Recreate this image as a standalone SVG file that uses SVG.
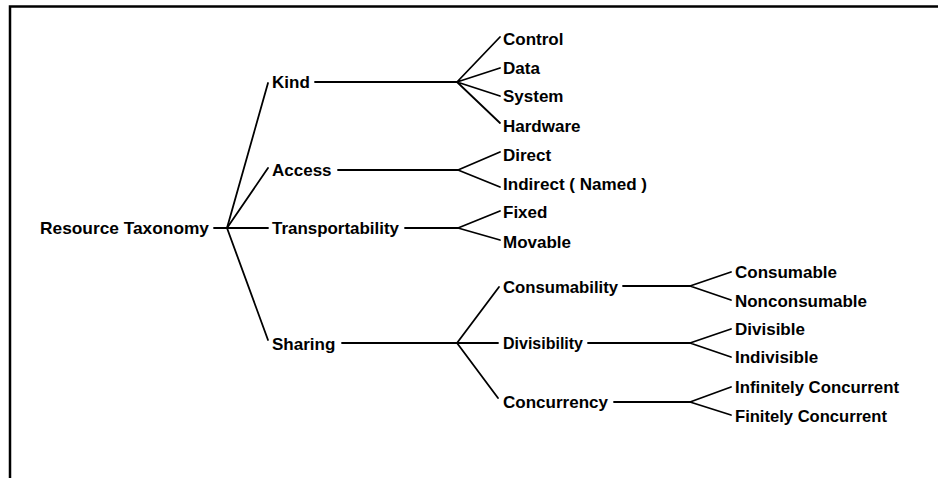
<svg xmlns="http://www.w3.org/2000/svg" width="938" height="478" viewBox="0 0 938 478">
  <style>
    .lbl { font-family: "Liberation Sans", Arial, sans-serif; font-weight: bold; font-size: 17px; fill: #000; }
    .edge { stroke: #000; stroke-width: 1.8; fill: none; stroke-linecap: round; }
    .frame { stroke: #000; stroke-width: 2.5; fill: none; }
  </style>
  <rect width="938" height="478" fill="#fff"/>
  <!-- open frame: top and left edges only -->
  <path class="frame" d="M10,478 L10,6.5 L938,6.5"/>

  <g id="connectors">
    <!-- root fan-out -->
    <path class="edge" d="M214,228 L268,228"/>
    <path class="edge" d="M227,228 L268,83"/>
    <path class="edge" d="M227,228 L268,168"/>
    <path class="edge" d="M227,228 L268,340"/>
    <!-- Kind -->
    <path class="edge" d="M315,82 L457,82"/>
    <path class="edge" d="M457,82 L500,37 M457,82 L500,68 M457,82 L500,96 M457,82 L500,123"/>
    <!-- Access -->
    <path class="edge" d="M338,170 L458,170"/>
    <path class="edge" d="M458,170 L500,152 M458,170 L500,187"/>
    <!-- Transportability -->
    <path class="edge" d="M405,228 L458,228"/>
    <path class="edge" d="M458,228 L500,211 M458,228 L500,240"/>
    <!-- Sharing -->
    <path class="edge" d="M342,343 L498,343"/>
    <path class="edge" d="M457,343 L499,287 M457,343 L498,398"/>
    <!-- Consumability -->
    <path class="edge" d="M623,286 L690,286"/>
    <path class="edge" d="M690,286 L731,272 M690,286 L731,300"/>
    <!-- Divisibility -->
    <path class="edge" d="M588,343 L690,343"/>
    <path class="edge" d="M690,343 L731,329 M690,343 L731,357"/>
    <!-- Concurrency -->
    <path class="edge" d="M614,402 L690,402"/>
    <path class="edge" d="M690,402 L731,387 M690,402 L731,415"/>
  </g>

  <g id="node-root"><text class="lbl" x="40" y="234" textLength="169" lengthAdjust="spacingAndGlyphs">Resource Taxonomy</text></g>

  <g id="node-kind"><text class="lbl" x="272" y="88">Kind</text></g>
  <g id="node-access"><text class="lbl" x="272" y="176">Access</text></g>
  <g id="node-transportability"><text class="lbl" x="272" y="234" textLength="127" lengthAdjust="spacingAndGlyphs">Transportability</text></g>
  <g id="node-sharing"><text class="lbl" x="272" y="350">Sharing</text></g>

  <g id="node-control"><text class="lbl" x="503" y="45">Control</text></g>
  <g id="node-data"><text class="lbl" x="503" y="74">Data</text></g>
  <g id="node-system"><text class="lbl" x="503" y="102">System</text></g>
  <g id="node-hardware"><text class="lbl" x="503" y="132">Hardware</text></g>
  <g id="node-direct"><text class="lbl" x="503" y="161">Direct</text></g>
  <g id="node-indirect"><text class="lbl" x="503" y="190" textLength="144" lengthAdjust="spacingAndGlyphs">Indirect ( Named )</text></g>
  <g id="node-fixed"><text class="lbl" x="503" y="218">Fixed</text></g>
  <g id="node-movable"><text class="lbl" x="503" y="248">Movable</text></g>

  <g id="node-consumability"><text class="lbl" x="503" y="293" textLength="115" lengthAdjust="spacingAndGlyphs">Consumability</text></g>
  <g id="node-divisibility"><text class="lbl" x="503" y="349" textLength="80" lengthAdjust="spacingAndGlyphs">Divisibility</text></g>
  <g id="node-concurrency"><text class="lbl" x="503" y="408" textLength="105" lengthAdjust="spacingAndGlyphs">Concurrency</text></g>

  <g id="node-consumable"><text class="lbl" x="735" y="278" textLength="102" lengthAdjust="spacingAndGlyphs">Consumable</text></g>
  <g id="node-nonconsumable"><text class="lbl" x="735" y="307" textLength="132" lengthAdjust="spacingAndGlyphs">Nonconsumable</text></g>
  <g id="node-divisible"><text class="lbl" x="735" y="335">Divisible</text></g>
  <g id="node-indivisible"><text class="lbl" x="735" y="363">Indivisible</text></g>
  <g id="node-infinitely"><text class="lbl" x="735" y="393" textLength="164" lengthAdjust="spacingAndGlyphs">Infinitely Concurrent</text></g>
  <g id="node-finitely"><text class="lbl" x="735" y="422" textLength="152" lengthAdjust="spacingAndGlyphs">Finitely Concurrent</text></g>
</svg>
